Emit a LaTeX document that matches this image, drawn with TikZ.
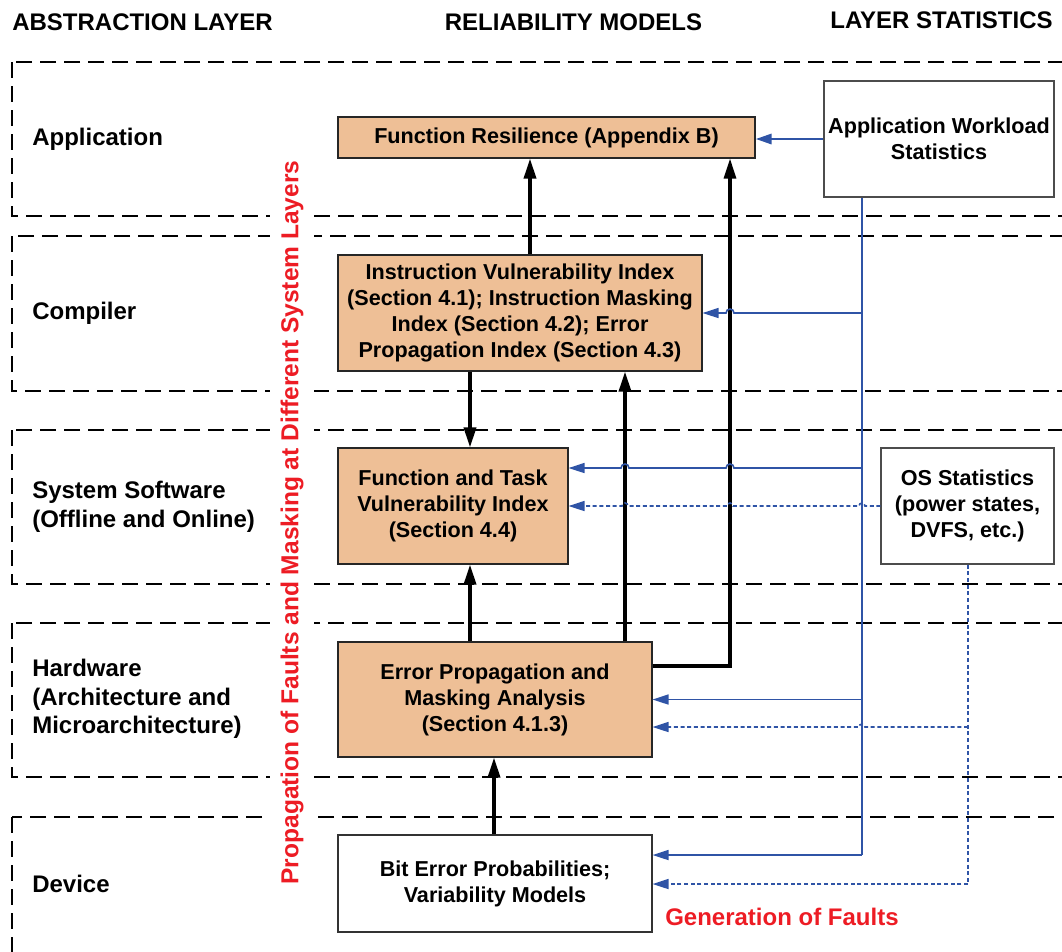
\documentclass[tikz,border=0pt]{standalone}
\usepackage{fontspec}
\setmainfont{Liberation Sans}
\usetikzlibrary{arrows.meta}
\definecolor{boxfill}{RGB}{238,191,150}
\definecolor{lblue}{RGB}{47,84,166}
\definecolor{fred}{RGB}{237,28,36}
\begin{document}
\begin{tikzpicture}[x=0.75pt,y=-0.75pt,
  layer/.style={draw=black, line width=1.5pt, dash pattern=on 12pt off 6pt},
  model/.style={draw=black!85, line width=0.8pt, fill=boxfill, font=\fontsize{16.2}{19.5}\selectfont\bfseries, align=center, inner sep=0pt},
  stat/.style={draw=black!70, line width=0.8pt, fill=white, font=\fontsize{16.2}{19.5}\selectfont\bfseries, align=center, inner sep=0pt},
  lname/.style={font=\fontsize{18}{21.5}\selectfont\bfseries, align=left, anchor=west, inner sep=0pt},
  head/.style={font=\fontsize{18}{21}\selectfont\bfseries, inner sep=0pt},
  redlbl/.style={text=fred, font=\fontsize{18}{21}\selectfont\bfseries},
  up/.style={draw=black, line width=2.6pt, -{Triangle[length=15pt,width=9pt]}},
  feed/.style={draw=lblue, line width=1.2pt, -{Triangle[length=12pt,width=7.5pt]}},
  feedline/.style={draw=lblue, line width=1.4pt},
  feedd/.style={feed, dash pattern=on 3pt off 2pt},
  feeddline/.style={draw=lblue, line width=1.2pt, dash pattern=on 3pt off 2pt},
]
\useasboundingbox (0,0) rectangle (1062,951);
\clip (0,0) rectangle (1062,951);

% layers
\draw[layer] (12,62) rectangle (1080,216);
\draw[layer] (12,236) rectangle (1080,391);
\draw[layer] (12,430) rectangle (1080,584);
\draw[layer] (12,623) rectangle (1080,777);
\draw[layer] (12,817) rectangle (1080,990);

% headers
\node[head, anchor=west] (h1) at (12,22) {ABSTRACTION LAYER};
\node[head] (h2) at (573.5,22) {RELIABILITY MODELS};
\node[head] (h3) at (941.5,20) {LAYER STATISTICS};

% layer names
\node[lname] (l1) at (32,139) {Application};
\node[lname] (l2) at (32,313) {Compiler};
\node[lname] (l3) at (32,507) {System Software\\(Offline and Online)};
\node[lname] (l4) at (32,699) {Hardware\\(Architecture and\\Microarchitecture)};
\node[lname] (l5) at (32,884) {Device};

% red labels
\node[redlbl, font=\fontsize{18.4}{21}\selectfont\bfseries, rotate=90, fill=white, inner sep=8pt] (prop) at (292,522.5) {Propagation of Faults and Masking at Different System Layers};
\node[redlbl, anchor=west, inner sep=0pt] (gen) at (665,917) {Generation of Faults};

% model boxes
\node[model, minimum width=312.75pt, minimum height=30.75pt] (fr) at (546.5,137.5) {Function Resilience (Appendix B)};
\node[model, minimum width=273pt, minimum height=87pt] (ivi) at (520,313) {Instruction Vulnerability Index\\(Section 4.1); Instruction Masking\\Index (Section 4.2); Error\\Propagation Index (Section 4.3)};
\node[model, minimum width=172.5pt, minimum height=87pt] (ftvi) at (453,506) {Function and Task\\Vulnerability Index\\(Section 4.4)};
\node[model, minimum width=235.5pt, minimum height=86.25pt] (epma) at (495,699.5) {Error Propagation and\\Masking Analysis\\(Section 4.1.3)};
\node[stat, draw=black!80, minimum width=235.5pt, minimum height=72.75pt] (bep) at (495,883.5) {Bit Error Probabilities;\\Variability Models};

% statistics boxes
\node[stat, minimum width=172.5pt, minimum height=87pt] (aws) at (939,139) {Application Workload\\Statistics};
\node[stat, minimum width=129.75pt, minimum height=87pt] (oss) at (967.5,506) {OS Statistics\\(power states,\\DVFS, etc.)};

% helper coordinates
\coordinate (c470) at (470,0);
\coordinate (c494) at (494,0);
\coordinate (c530) at (530,0);
\coordinate (c625) at (625,0);
\coordinate (c730) at (730,0);
\coordinate (c862) at (862,0);
\coordinate (c968) at (968,0);
\coordinate (y468) at (0,468);
\coordinate (y666) at (0,666);
\coordinate (y727) at (0,727);
\coordinate (y855) at (0,855);
\coordinate (y884) at (0,884);

% black propagation arrows
\draw[up] (ivi.north -| c530) -- (fr.south -| c530);
\draw[up, line width=2.3pt] (epma.east |- y666) -- (c730 |- y666) -- (fr.south -| c730);
\draw[up] (ivi.south -| c470) -- (ftvi.north -| c470);
\draw[up] (epma.north -| c470) -- (ftvi.south -| c470);
\draw[up] (epma.north -| c625) -- (ivi.south -| c625);
\draw[up] (bep.north -| c494) -- (epma.south -| c494);

% application workload statistics feeds
\draw[feed, line width=2.2pt] (aws.west) -- (aws.west -| fr.east);
\draw[feedline] (aws.south -| c862) -- (c862 |- y855);
\draw[feed] (c862 |- ivi.east) -- (734,313) arc (0:-180:4) -- (ivi.east);
\draw[feed] (c862 |- y468) -- (734,468) arc (0:-180:4) -- (629,468) arc (0:-180:4) -- (ftvi.east |- y468);
\draw[feed] (c862 |- epma.east) -- (epma.east);
\draw[feed] (c862 |- y855) -- (bep.east |- y855);

% OS statistics feeds (dotted)
\draw[feedd] (oss.west) -- (865,506) arc (0:-180:3) -- (733,506) arc (0:-180:3) -- (628,506) arc (0:-180:3) -- (ftvi.east);
\draw[feeddline] (oss.south -| c968) -- (c968 |- y884);
\draw[feedd] (c968 |- y727) -- (865,727) arc (0:-180:3) -- (epma.east |- y727);
\draw[feedd] (c968 |- y884) -- (bep.east |- y884);
\end{tikzpicture}
\end{document}
